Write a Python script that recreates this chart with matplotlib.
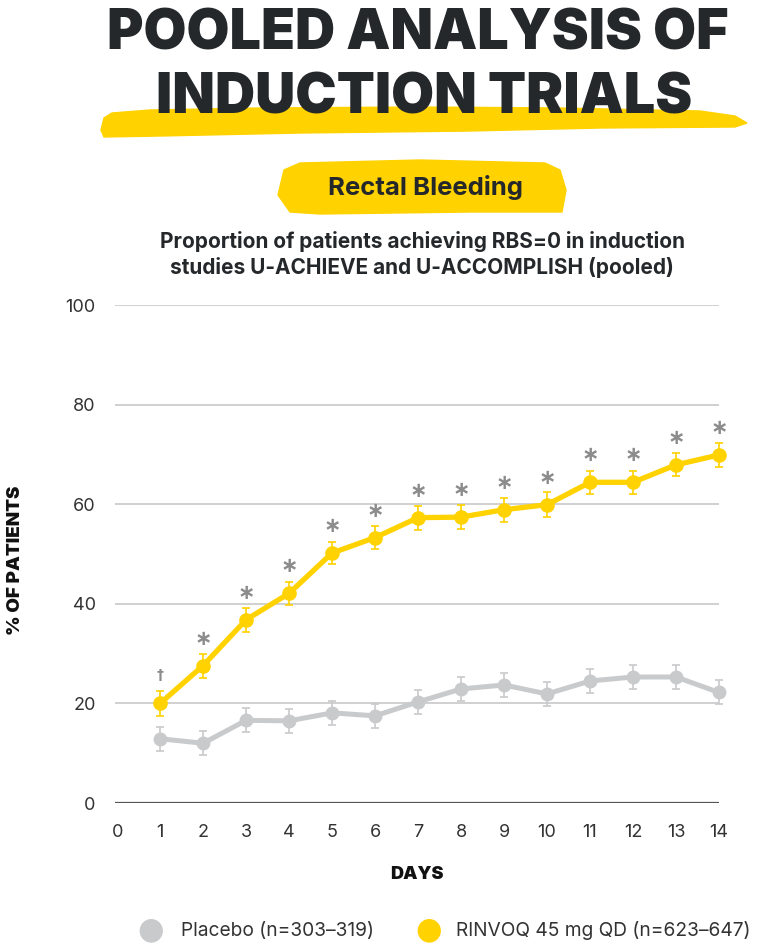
import numpy as np
import matplotlib.pyplot as plt
from matplotlib.patches import Polygon

# data
days = list(range(1, 15))
rinvoq = [20.0, 27.6, 36.8, 42.1, 50.2, 53.3, 57.3, 57.4, 58.9, 59.9, 64.4, 64.4, 67.9, 69.9]
rinvoq_err = [2.5, 2.4, 2.4, 2.3, 2.3, 2.3, 2.4, 2.4, 2.4, 2.5, 2.3, 2.3, 2.3, 2.4]
placebo = [12.9, 12.0, 16.6, 16.5, 18.1, 17.5, 20.3, 22.9, 23.7, 21.9, 24.5, 25.3, 25.3, 22.2]
placebo_err = [2.4, 2.4, 2.4, 2.4, 2.4, 2.4, 2.4, 2.5, 2.5, 2.4, 2.5, 2.5, 2.5, 2.4]
marks = ['†'] + ['*'] * 13
xticks = list(range(0, 15))
yticks = [0, 20, 40, 60, 80, 100]
labels = ['Placebo (n=303–319)', 'RINVOQ 45 mg QD (n=623–647)']

YEL = '#FFD200'
GRY = '#C9CACC'
DARK = '#25282B'

plt.rcParams['font.family'] = ['Inter', 'DejaVu Sans']

W, H = 761, 944
fig = plt.figure(figsize=(W / 100, H / 100), dpi=100)

def fx(px):
    return px / W

def fy(py):
    return 1 - py / H

# brush strokes behind the title and the section label
stroke = [(104, 118), (112, 113), (150, 110), (260, 108), (420, 107), (560, 108),
          (700, 111), (735, 116), (747, 123), (735, 127), (600, 128), (470, 131),
          (300, 133), (160, 136), (104, 137), (101, 130)]
fig.patches.append(Polygon([(fx(a), fy(b)) for a, b in stroke], closed=True,
                           transform=fig.transFigure, color=YEL, zorder=0))
box = [(284, 170), (300, 163), (420, 160), (545, 163), (560, 170), (566, 190),
       (562, 212), (470, 212), (320, 214), (290, 212), (278, 195)]
fig.patches.append(Polygon([(fx(a), fy(b)) for a, b in box], closed=True,
                           transform=fig.transFigure, color=YEL, zorder=0))

fig.text(fx(418), fy(50), 'POOLED ANALYSIS OF', ha='center', va='baseline',
         fontsize=40, fontweight='black', color=DARK)
fig.text(fx(424), fy(113), 'INDUCTION TRIALS', ha='center', va='baseline',
         fontsize=40, fontweight='black', color=DARK)
fig.text(fx(425), fy(195), 'Rectal Bleeding', ha='center', va='baseline',
         fontsize=18.5, fontweight='bold', color=DARK)
fig.text(fx(422), fy(248), 'Proportion of patients achieving RBS=0 in induction',
         ha='center', va='baseline', fontsize=15, fontweight='bold', color=DARK)
fig.text(fx(422), fy(274), 'studies U-ACHIEVE and U-ACCOMPLISH (pooled)',
         ha='center', va='baseline', fontsize=15, fontweight='bold', color=DARK)

ax = fig.add_axes([fx(115), fy(803), fx(719) - fx(115), fy(305) - fy(803)])
ax.set_xlim(-0.05, 14)
ax.set_ylim(0, 100)

for y in yticks[1:]:
    ax.axhline(y, color='#C8C8C8', lw=1.2, zorder=0)
ax.axhline(0, color='#555555', lw=1.6, zorder=1)

ax.errorbar(days, placebo, yerr=placebo_err, color=GRY, lw=3.6, marker='o', ms=9,
            elinewidth=1.2, capsize=3, capthick=1.2, ecolor=GRY, clip_on=False, zorder=3)
ax.errorbar(days, rinvoq, yerr=rinvoq_err, color=YEL, lw=3.8, marker='o', ms=9.5,
            elinewidth=1.2, capsize=3, capthick=1.2, ecolor=YEL, clip_on=False, zorder=4)

for d, v, m in zip(days, rinvoq, marks):
    if m == '*':
        ax.text(d, v + 5.4, '∗', ha='center', va='center', fontsize=15,
                fontweight='bold', color='#8C8C8C', family='DejaVu Sans')
    else:
        ax.text(d, v + 5.8, m, ha='center', va='center', fontsize=10,
                fontweight='bold', color='#8C8C8C', family='DejaVu Sans')

for s in ax.spines.values():
    s.set_visible(False)
ax.set_xticks(xticks)
ax.set_yticks(yticks)
ax.tick_params(length=0, labelsize=13, colors='#333333')
ax.tick_params(axis='x', pad=15)
ax.tick_params(axis='y', pad=14)
ax.set_xlabel('DAYS', fontsize=13, fontweight='black', color='#111111', labelpad=18)
fig.text(fx(16), fy(560), '% OF PATIENTS', rotation=90, ha='center', va='center',
         fontsize=13.5, fontweight='black', color='#111111')

# legend
fig.text(fx(151), fy(930), '●', ha='center', va='center', fontsize=22, color=GRY,
         family='DejaVu Sans')
fig.text(fx(181), fy(931), labels[0], ha='left', va='center', fontsize=13.8, color='#333333')
fig.text(fx(429), fy(930), '●', ha='center', va='center', fontsize=22, color=YEL,
         family='DejaVu Sans')
fig.text(fx(456), fy(931), labels[1], ha='left', va='center', fontsize=13.8, color='#333333')

fig.savefig('out.png', dpi=100)
